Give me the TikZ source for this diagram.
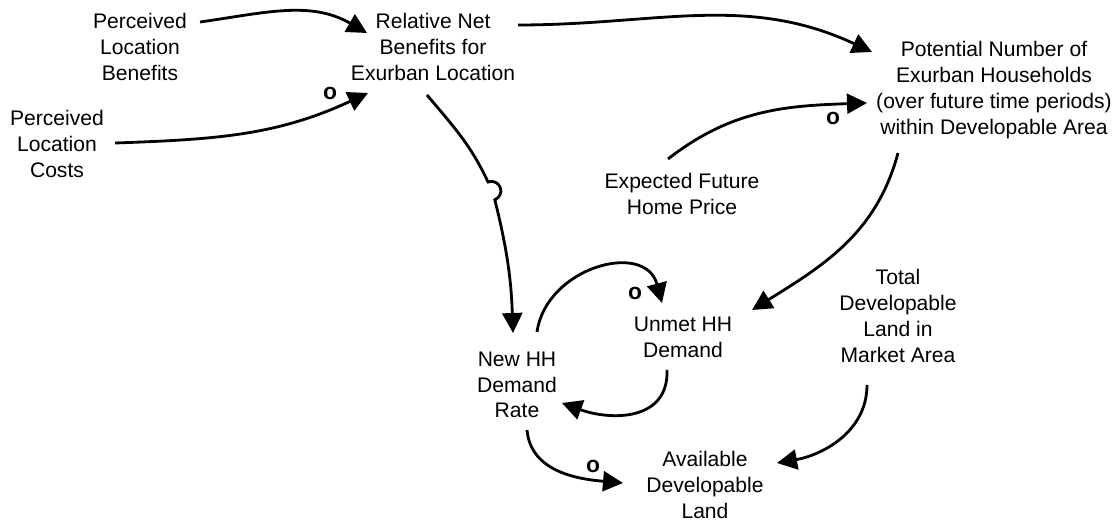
\documentclass[tikz,border=0pt]{standalone}
\usepackage{fontspec}
\setmainfont{Liberation Sans}
\usetikzlibrary{arrows.meta}

\begin{document}
\begin{tikzpicture}[x=0.02cm, y=0.02cm]
	\tikzstyle{var} = [align=center, inner sep=0pt, font=\fontsize{12}{14.7}\selectfont];
	\tikzstyle{sign} = [inner sep=0pt, font=\fontsize{13}{15}\selectfont\bfseries];
	\tikzstyle{link} = [line width=1.6pt, -{Triangle[length=0.4cm, width=0.4cm]}];

	\useasboundingbox (0,0) rectangle (1113,-523);

	\node[var] (ben) at (140,-47) {Perceived\\Location\\Benefits};
	\node[var] (rel) at (433,-47) {Relative Net\\Benefits for\\Exurban Location};
	\node[var] (cost) at (57,-144) {Perceived\\Location\\Costs};
	\node[var] (pot) at (994,-90) {Potential Number of\\Exurban Households\\(over future time periods)\\within Developable Area};
	\node[var] (exp) at (682,-194) {Expected Future\\Home Price};
	\node[var] (unmet) at (683,-337) {Unmet HH\\Demand};
	\node[var] (newhh) at (517,-385) {New HH\\Demand\\Rate};
	\node[var] (avail) at (705,-485) {Available\\Developable\\Land};
	\node[var] (total) at (898,-316) {Total\\Developable\\Land in\\Market Area};

	\coordinate (hop) at (488,-182);

	\draw[link] ([shift={(60,25)}]ben.center) to[out=8, in=150] ([shift={(-66,14)}]rel.center);
	\draw[link] ([shift={(58,1)}]cost.center) to[out=2, in=205] ([shift={(-65,-46)}]rel.center);
	\draw[link] ([shift={(85,22)}]rel.center) to[out=0, in=155] ([shift={(-122,38)}]pot.center);
	\draw[link] ([shift={(-14,35)}]exp.center) to[out=38, in=182] ([shift={(-127,-13)}]pot.center);
	\draw[link] ([shift={(-96,-63)}]pot.center) to[out=-105, in=32] ([shift={(69,27)}]unmet.center);
	% link with a hop half way down
	\draw[link] ([shift={(-6,-48)}]rel.center) to[out=-50, in=115] (hop)
		arc[start angle=111, end angle=-69, radius=0.19cm]
		to[out=-76, in=92] ([shift={(-4,52)}]newhh.center);
	\draw[link] ([shift={(20,53)}]newhh.center) to[out=82, in=105, looseness=1.3] ([shift={(-21,34)}]unmet.center);
	\draw[link] ([shift={(-16,-33)}]unmet.center) to[out=-88, in=-20, looseness=1.2] ([shift={(45,-18)}]newhh.center);
	\draw[link] ([shift={(10,-45)}]newhh.center) to[out=-85, in=175] ([shift={(-82,2)}]avail.center);
	\draw[link] ([shift={(-31,-69)}]total.center) to[out=-90, in=10] ([shift={(72,22)}]avail.center);

	\node[sign] (s1) at (330,-93) {o};
	\node[sign] (s2) at (833,-118) {o};
	\node[sign] (s3) at (635,-293) {o};
	\node[sign] (s4) at (593,-466) {o};
\end{tikzpicture}
\end{document}
